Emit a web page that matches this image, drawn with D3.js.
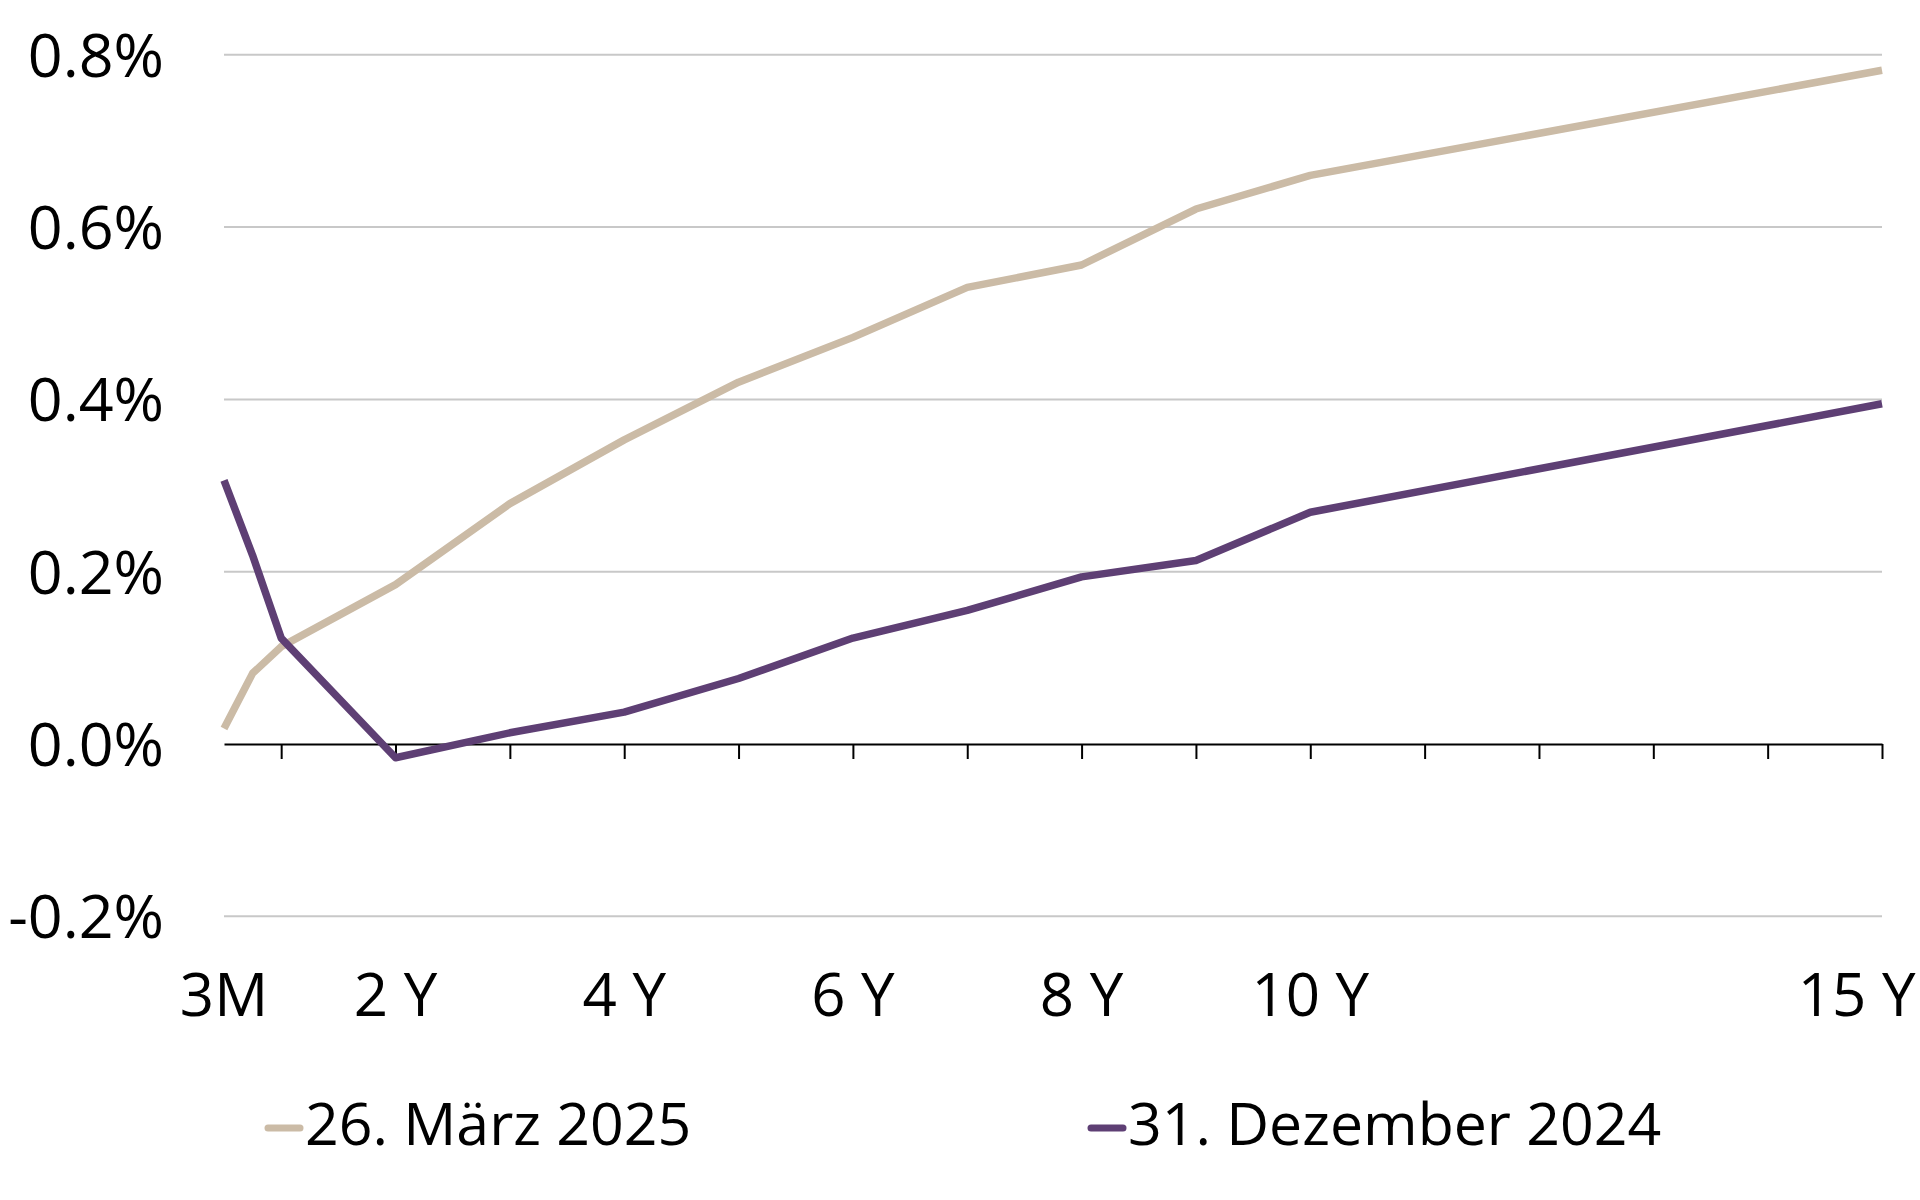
<!DOCTYPE html>
<html>
<head>
<meta charset="utf-8">
<script src="https://cdn.jsdelivr.net/npm/d3@7/dist/d3.min.js"></script>
<style>
  html, body { margin: 0; padding: 0; background: #ffffff; }
  svg { display: block; }
  text { font-family: "Open Sans", "Noto Sans", sans-serif; fill: #000; }
</style>
</head>
<body>
<svg id="chart" width="1920" height="1200"></svg>
<script>
// ---- data ----
const tenors      = ["3M", "6M", "1Y", "2Y", "3Y", "4Y", "5Y", "6Y", "7Y", "8Y", "9Y", "10Y", "15Y"];
const tenorPos    = [0.5, 0.75, 1, 2, 3, 4, 5, 6, 7, 8, 9, 10, 15];
const seriesNames = ["26. März 2025", "31. Dezember 2024"];
const march2025   = [0.018, 0.082, 0.113, 0.185, 0.279, 0.353, 0.420, 0.472, 0.530, 0.556, 0.621, 0.660, 0.782];
const dec2024     = [0.306, 0.219, 0.123, -0.016, 0.013, 0.037, 0.076, 0.123, 0.155, 0.194, 0.213, 0.269, 0.395];
const yTickValues = [-0.2, 0.0, 0.2, 0.4, 0.6, 0.8];
const yTickLabels = ["-0.2%", "0.0%", "0.2%", "0.4%", "0.6%", "0.8%"];
const xTickValues = [1, 2, 3, 4, 5, 6, 7, 8, 9, 10, 11, 12, 13, 14, 15];
const xLabelValues = [0.5, 2, 4, 6, 8, 10, 15];
const xLabelTexts  = ["3M", "2 Y", "4 Y", "6 Y", "8 Y", "10 Y", "15 Y"];
const colors = ["#CBBBA6", "#5E3F74"];

(function () {
// ---- layout ----
const plotL = 224, plotR = 1882, plotT = 54.8, plotB = 916.3;
const svg = d3.select("#chart");

const x = d3.scaleLinear().domain([0.5, 15]).range([plotL, plotR]);
const y = d3.scaleLinear().domain([-0.2, 0.8]).range([plotB, plotT]);

// gridlines
svg.append("g")
  .selectAll("line")
  .data(yTickValues.filter(v => v !== 0))
  .join("line")
  .attr("x1", x(0.5)).attr("x2", x(15))
  .attr("y1", d => y(d)).attr("y2", d => y(d))
  .attr("stroke", "#C8C8C8").attr("stroke-width", 2);

// y labels
svg.append("g")
  .selectAll("text")
  .data(yTickValues)
  .join("text")
  .attr("x", 164)
  .attr("y", d => y(d))
  .attr("dy", "0.36em")
  .attr("text-anchor", "end")
  .attr("font-size", 61)
  .text((d, i) => yTickLabels[i]);

// x axis at zero with ticks
const xAxis = d3.axisBottom(x)
  .tickValues(xTickValues)
  .tickFormat("")
  .tickSize(15)
  .tickSizeOuter(0);
const gx = svg.append("g")
  .attr("transform", `translate(0,${y(0)})`)
  .call(xAxis);
gx.select(".domain").attr("stroke", "#000").attr("stroke-width", 2);
gx.selectAll(".tick line").attr("stroke", "#000").attr("stroke-width", 2);

// x labels
const xl = svg.append("g")
  .selectAll("text")
  .data(xLabelValues)
  .join("text")
  .attr("x", d => x(d))
  .attr("y", 1016)
  .attr("text-anchor", "middle")
  .attr("font-size", 60)
  .text((d, i) => xLabelTexts[i]);
// keep the last label inside the canvas like the original
xl.each(function () {
  const bb = this.getBBox();
  const maxRight = 1916;
  if (bb.x + bb.width > maxRight) {
    d3.select(this).attr("x", +d3.select(this).attr("x") - (bb.x + bb.width - maxRight));
  }
});

// lines
const line = d3.line()
  .x((d, i) => x(tenorPos[i]))
  .y(d => y(d));

[march2025, dec2024].forEach((s, k) => {
  svg.append("path")
    .datum(s)
    .attr("d", line)
    .attr("fill", "none")
    .attr("stroke", colors[k])
    .attr("stroke-width", 7.5)
    .attr("stroke-linejoin", "round")
    .attr("stroke-linecap", "butt");
});

// legend
const legendX = [265, 1088];
const legY = 1128;
seriesNames.forEach((name, k) => {
  svg.append("line")
    .attr("x1", legendX[k] + 3).attr("x2", legendX[k] + 35)
    .attr("y1", legY).attr("y2", legY)
    .attr("stroke", colors[k]).attr("stroke-width", 7)
    .attr("stroke-linecap", "round");
  svg.append("text")
    .attr("x", legendX[k] + 40)
    .attr("y", 1145)
    .attr("font-size", 59)
    .text(name);
});
})();
</script>
</body>
</html>
